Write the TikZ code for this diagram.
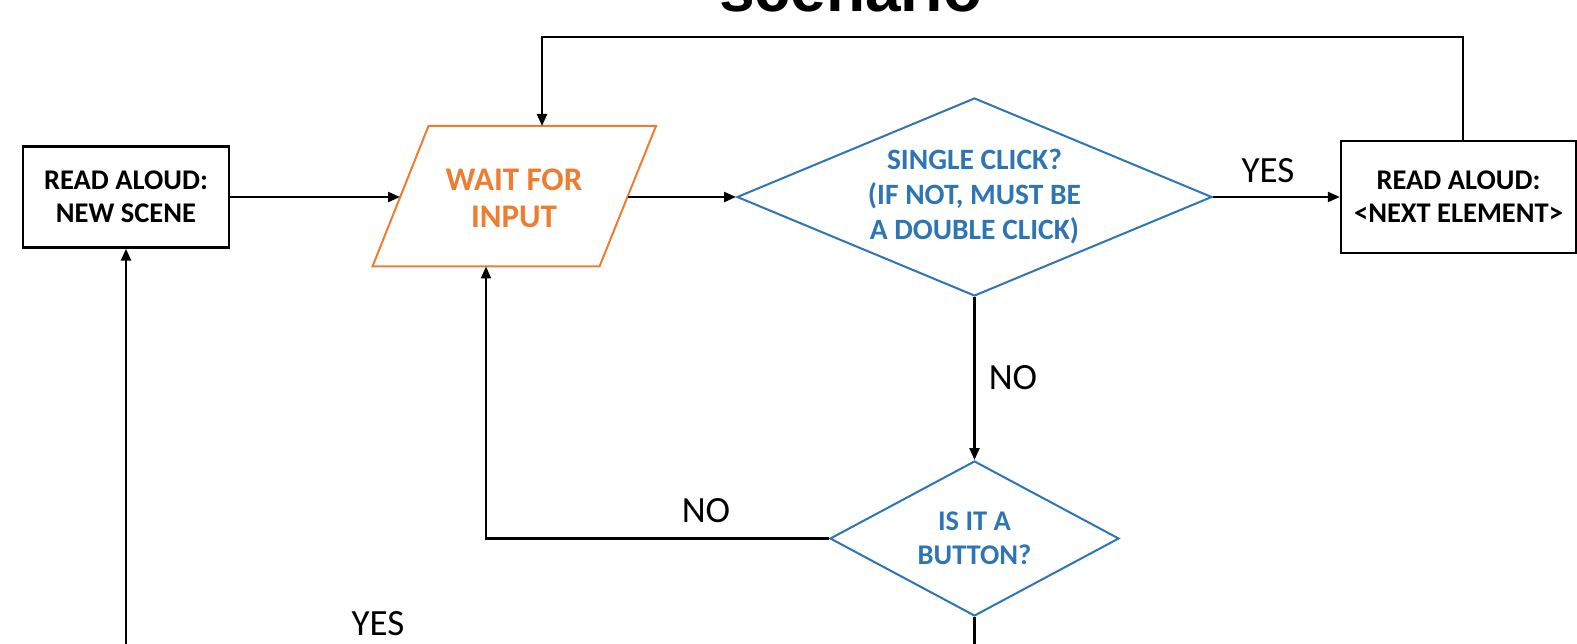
\documentclass[tikz,border=0pt]{standalone}
\usepackage{fontspec}
\setmainfont{Carlito}
\newfontfamily\titlefont{Liberation Sans}
\usetikzlibrary{arrows.meta,shapes.geometric}
\definecolor{oforange}{HTML}{ED7D31}
\definecolor{ofblue}{HTML}{2E75B6}
\begin{document}
\begin{tikzpicture}[x=1pt,y=-1pt,
  boxtxt/.style={font=\bfseries\fontsize{28.5}{33}\selectfont, align=center},
  procbox/.style={draw=black, line width=2.4pt, rectangle, inner sep=0pt, boxtxt},
  decbox/.style={draw=ofblue, line width=2pt, diamond, inner sep=0pt, text=ofblue, align=center},
  conn/.style={draw=black, line width=2.3pt},
  arr/.style={conn, -{Triangle[length=12pt,width=10pt]}},
  lbl/.style={font=\fontsize{37}{40}\selectfont, inner sep=0pt}
]
\useasboundingbox (0,0) rectangle (1577,644);
% title (cut off by the page edge)
\node[font=\titlefont\bfseries\fontsize{64}{70}\selectfont, anchor=base, inner sep=0pt] (title) at (851,12) {scenario};

% nodes
\node[procbox, minimum width=206pt, minimum height=101pt] (b1) at (126,197) {READ ALOUD:\\NEW SCENE};
\node[text=oforange, inner sep=0pt, align=center, font=\bfseries\fontsize{33}{37}\selectfont] (par) at (514,198) {WAIT FOR\\INPUT};
\draw[oforange, line width=2pt, line join=miter] (428.5,126) -- (656,126) -- (599.5,266.5) -- (372.5,266.5) -- cycle;
\coordinate (parL) at (400,197);
\coordinate (parR) at (628,197);
\coordinate (parT) at (542,126);
\coordinate (parB) at (486,266.5);
\node[decbox, aspect=2.4, minimum width=475pt, minimum height=198pt,
      font=\bfseries\fontsize{29.5}{35}\selectfont] (d1) at (974.5,197) {SINGLE CLICK?\\(IF NOT, MUST BE\\A DOUBLE CLICK)};
\node[procbox, minimum width=235pt, minimum height=112pt] (b2) at (1458.5,197) {READ ALOUD:\\{<}NEXT ELEMENT{>}};
\node[decbox, aspect=1.87, minimum width=289pt, minimum height=155pt,
      font=\bfseries\fontsize{28.5}{34}\selectfont] (d2) at (974.5,538.5) {IS IT A\\BUTTON?};
\coordinate (loop) at (542,37);
\coordinate (bot1) at (126,660);
\coordinate (bot2) at (974.5,660);

% connectors
\draw[arr] (b1.east) -- (parL);
\draw[arr] (parR) -- (d1.west);
\draw[arr] (d1.east) -- (b2.west);
\draw[arr] ([xshift=4.5pt]b2.north) |- (loop) -- (parT);
\draw[arr] (d1.south) -- (d2.north);
\draw[arr] (d2.west) -| (parB);
\draw[conn] (d2.south) -- (bot2);
\draw[arr] (bot1) -- (b1.south);

% labels
\node[lbl] (yes1) at (1268,171) {YES};
\node[lbl] (no1) at (1013,378) {NO};
\node[lbl] (no2) at (706,511) {NO};
\node[lbl] (yes2) at (378,624) {YES};
\end{tikzpicture}
\end{document}
